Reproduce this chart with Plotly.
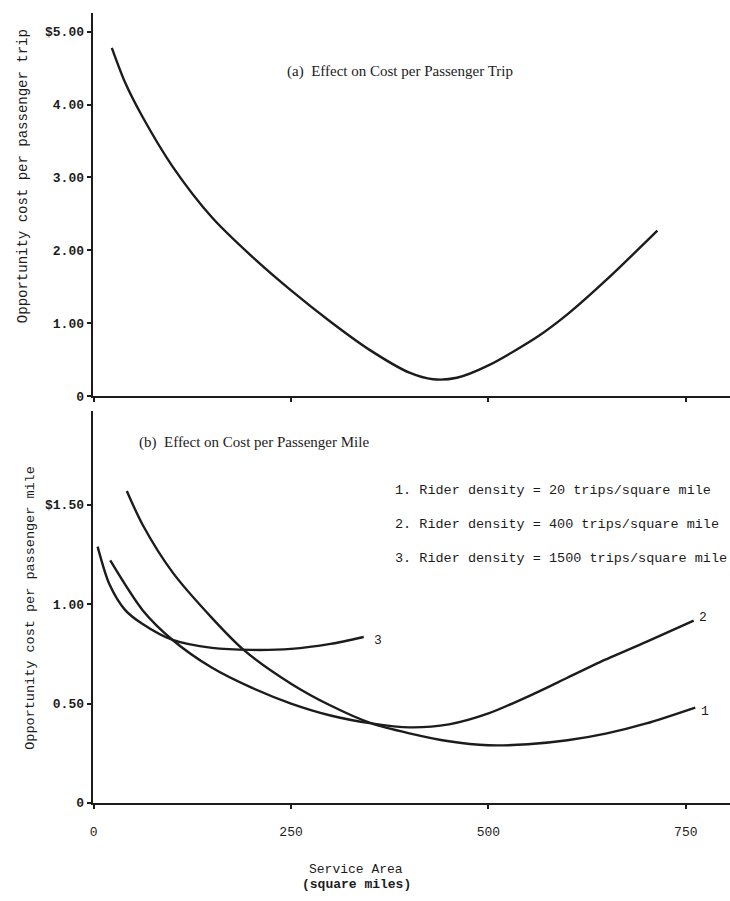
import plotly.graph_objects as go

# ---------------- data ----------------
# (a) cost per passenger trip vs service area
area_a = [23, 40, 62, 100, 150, 200, 250, 300, 350, 400, 430, 460, 500, 563, 600, 650, 714]
cost_a = [4.78, 4.30, 3.83, 3.15, 2.45, 1.92, 1.45, 1.02, 0.63, 0.32, 0.23, 0.25, 0.42, 0.82, 1.12, 1.60, 2.27]

# (b) cost per passenger mile, three rider densities
area_1 = [42, 62, 100, 150, 190, 250, 300, 352, 400, 450, 500, 550, 600, 650, 700, 762]
cost_1 = [1.57, 1.40, 1.16, 0.93, 0.77, 0.60, 0.49, 0.40, 0.35, 0.31, 0.29, 0.295, 0.315, 0.35, 0.40, 0.48]

area_2 = [21, 62, 100, 150, 200, 250, 300, 352, 400, 450, 500, 558, 600, 642, 700, 760]
cost_2 = [1.22, 0.97, 0.82, 0.68, 0.58, 0.50, 0.44, 0.40, 0.38, 0.395, 0.45, 0.55, 0.63, 0.71, 0.81, 0.917]

area_3 = [5, 20, 40, 62, 100, 150, 200, 250, 300, 342]
cost_3 = [1.29, 1.10, 0.97, 0.90, 0.82, 0.78, 0.77, 0.775, 0.80, 0.835]

legend_lines = [
    "1. Rider density = 20 trips/square mile",
    "2. Rider density = 400 trips/square mile",
    "3. Rider density = 1500 trips/square mile",
]

tick_area = [0, 250, 500, 750]
tick_area_text = ["0", "250", "500", "750"]
tick_trip = [0, 1, 2, 3, 4, 5]
tick_trip_text = ["0", "1.00", "2.00", "3.00", "4.00", "$5.00"]
tick_mile = [0, 0.5, 1.0, 1.5]
tick_mile_text = ["0", "0.50", "1.00", "$1.50"]

title_a = "(a)  Effect on Cost per Passenger Trip"
title_b = "(b)  Effect on Cost per Passenger Mile"
ytitle_a = "Opportunity cost per passenger trip"
ytitle_b = "Opportunity cost per passenger mile"
xtitle_1 = "Service Area"
xtitle_2 = "<b>(square miles)</b>"

# ---------------- layout helpers ----------------
W, H = 730, 901
def fx(px):
    return px / W
def fy(py):
    return 1 - py / H

MONO = "Liberation Mono, DejaVu Sans Mono, monospace"
SERIF = "Liberation Serif, DejaVu Serif, serif"
INK = "#1c1c1c"
LINE = dict(color=INK, width=2.4, shape="spline", smoothing=0.8)

fig = go.Figure()
fig.add_trace(go.Scatter(x=area_a, y=cost_a, mode="lines", line=LINE, xaxis="x", yaxis="y", showlegend=False))
for xs, ys in [(area_1, cost_1), (area_2, cost_2), (area_3, cost_3)]:
    fig.add_trace(go.Scatter(x=xs, y=ys, mode="lines", line=LINE, xaxis="x2", yaxis="y2", showlegend=False))

ann = []
# curve end labels
for lab, xs, ys, dx, dy in [("1", area_1, cost_1, 10, -4), ("2", area_2, cost_2, 9, 3), ("3", area_3, cost_3, 14, -4)]:
    ann.append(dict(x=xs[-1], y=ys[-1], xref="x2", yref="y2", text=lab, showarrow=False,
                    xshift=dx, yshift=dy, font=dict(family=MONO, size=13, color=INK)))
# legend text lines
for i, t in enumerate(legend_lines):
    ann.append(dict(x=fx(392), y=fy(495 + 34.5 * i), xref="paper", yref="paper", text=t,
                    showarrow=False, xanchor="left", yanchor="middle",
                    font=dict(family=MONO, size=13.5, color=INK)))
# panel titles
ann.append(dict(x=fx(283), y=fy(72), xref="paper", yref="paper", text=title_a, showarrow=False,
                xanchor="left", yanchor="middle", font=dict(family=SERIF, size=15, color=INK)))
ann.append(dict(x=fx(135), y=fy(447), xref="paper", yref="paper", text=title_b, showarrow=False,
                xanchor="left", yanchor="middle", font=dict(family=SERIF, size=15, color=INK)))
# axis titles
ann.append(dict(x=fx(20), y=fy(178), xref="paper", yref="paper", text=ytitle_a, showarrow=False,
                textangle=-90, xanchor="center", yanchor="middle", font=dict(family=MONO, size=14, color=INK)))
ann.append(dict(x=fx(28), y=fy(614), xref="paper", yref="paper", text=ytitle_b, showarrow=False,
                textangle=-90, xanchor="center", yanchor="middle", font=dict(family=MONO, size=13.5, color=INK)))
ann.append(dict(x=fx(354), y=fy(878), xref="paper", yref="paper", text=xtitle_1, showarrow=False,
                xanchor="center", yanchor="middle", font=dict(family=MONO, size=13, color=INK)))
ann.append(dict(x=fx(355), y=fy(893), xref="paper", yref="paper", text=xtitle_2, showarrow=False,
                xanchor="center", yanchor="middle", font=dict(family=MONO, size=13, color=INK)))

axis_common = dict(showline=True, linecolor=INK, linewidth=2, showgrid=False, zeroline=False,
                   ticks="outside", ticklen=4, tickwidth=2, tickcolor=INK)
YFONT = dict(family=MONO, size=13, color=INK, weight="bold")
XFONT = dict(family=MONO, size=13, color=INK)

xr = [-1.3, 806]
fig.update_layout(
    width=W, height=H, margin=dict(l=0, r=0, t=0, b=0),
    paper_bgcolor="white", plot_bgcolor="white", showlegend=False,
    xaxis=dict(domain=[fx(90), 1], range=xr, anchor="y", tickvals=tick_area, ticktext=tick_area_text,
               showticklabels=False, tickfont=XFONT, **axis_common),
    yaxis=dict(domain=[fy(400), fy(13)], range=[0, 5.26], anchor="x", tickvals=tick_trip,
               ticktext=tick_trip_text, tickfont=YFONT, **axis_common),
    xaxis2=dict(domain=[fx(90), 1], range=xr, anchor="y2", tickvals=tick_area, ticktext=tick_area_text,
                ticklabelstandoff=12, tickfont=XFONT, **axis_common),
    yaxis2=dict(domain=[fy(811), fy(415)], range=[0, 1.973], anchor="x2", tickvals=tick_mile,
                ticktext=tick_mile_text, tickfont=YFONT, **axis_common),
    annotations=ann,
)

fig.write_html("out.html")
